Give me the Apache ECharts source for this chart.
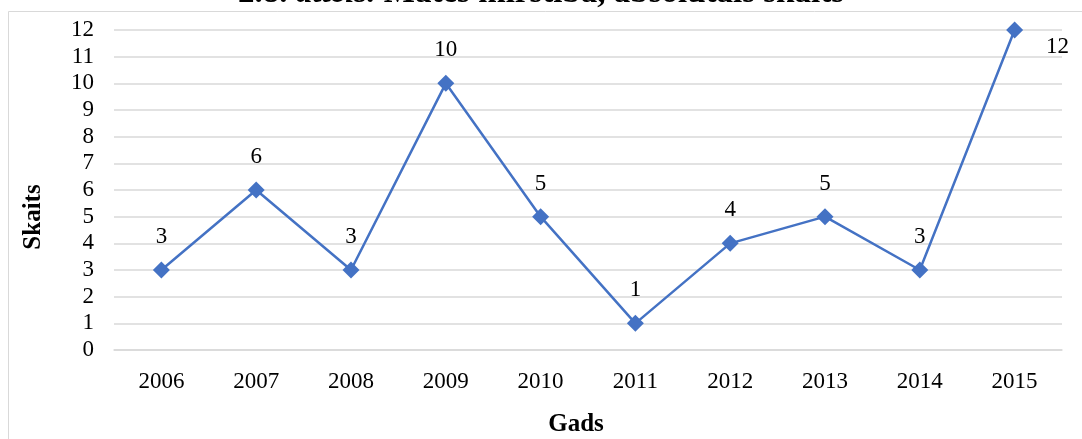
<!DOCTYPE html>
<html>
<head>
<meta charset="utf-8">
<script src="https://cdn.jsdelivr.net/npm/echarts@6/dist/echarts.min.js"></script>
<style>
  html, body { margin: 0; padding: 0; background: #ffffff; }
  #chart { width: 1082px; height: 439px; }
</style>
</head>
<body>
<div id="chart"></div>
<script>
// Maternal deaths per year, absolute count
const years = ['2006', '2007', '2008', '2009', '2010', '2011', '2012', '2013', '2014', '2015'];
const deaths = [3, 6, 3, 10, 5, 1, 4, 5, 3, 12];
const yTicks = [0, 1, 2, 3, 4, 5, 6, 7, 8, 9, 10, 11, 12];

const serif = '"Liberation Serif", "Times New Roman", serif';
const chart = echarts.init(document.getElementById('chart'), null, { renderer: 'canvas' });

chart.setOption({
  animation: false,
  backgroundColor: '#ffffff',
  textStyle: { fontFamily: serif },
  title: {
    left: 'center',
    top: -28,
    text: '{n|2.8. }{i|attēls.}{b| Mātes mirstība, absolūtais skaits}',
    textStyle: {
      rich: {
        n: { fontFamily: serif, fontSize: 33, color: '#000' },
        i: { fontFamily: serif, fontSize: 33, fontStyle: 'italic', color: '#000' },
        b: { fontFamily: serif, fontSize: 33, fontWeight: 'bold', color: '#000' }
      }
    }
  },
  graphic: [
    {
      type: 'rect',
      shape: { x: 8.5, y: 11.5, width: 1100, height: 460 },
      style: { fill: 'none', stroke: '#d9d9d9', lineWidth: 1 },
      silent: true
    },
    {
      // vertical axis title
      type: 'text',
      x: 34,
      y: 217,
      rotation: Math.PI / 2,
      style: {
        text: 'Skaits',
        fontFamily: serif,
        fontSize: 25,
        fontWeight: 'bold',
        fill: '#000',
        align: 'center',
        verticalAlign: 'middle'
      },
      silent: true
    }
  ],
  grid: {
    left: 114, right: 20, top: 30, bottom: 89,
    containLabel: false,
    outerBoundsMode: 'none'
  },
  xAxis: {
    type: 'category',
    data: years,
    boundaryGap: true,
    name: 'Gads',
    nameLocation: 'middle',
    nameGap: 62,
    nameTextStyle: {
      fontFamily: serif, fontSize: 25, fontWeight: 'bold', color: '#000',
      padding: [0, 24, 0, 0]
    },
    axisLine: { show: true, lineStyle: { color: '#d9d9d9', width: 1.5 } },
    axisTick: { show: false },
    axisLabel: { fontFamily: serif, fontSize: 23, color: '#000', margin: 20 }
  },
  yAxis: {
    type: 'value',
    min: yTicks[0],
    max: yTicks[yTicks.length - 1],
    interval: 1,
    axisLine: { show: false },
    axisTick: { show: false },
    axisLabel: { fontFamily: serif, fontSize: 23, color: '#000', margin: 20 },
    splitLine: { lineStyle: { color: '#d9d9d9', width: 1.5 } }
  },
  series: [
    {
      type: 'line',
      data: deaths.map((v, i) => i === deaths.length - 1
        ? { value: v, label: { position: 'right', offset: [10, 17] } }
        : v),
      symbol: 'diamond',
      symbolSize: 17,
      itemStyle: { color: '#4472c4' },
      lineStyle: { color: '#4472c4', width: 2.5 },
      label: {
        show: true,
        position: 'top',
        distance: 13,
        fontFamily: serif,
        fontSize: 23,
        color: '#000'
      }
    }
  ]
});
</script>
</body>
</html>
